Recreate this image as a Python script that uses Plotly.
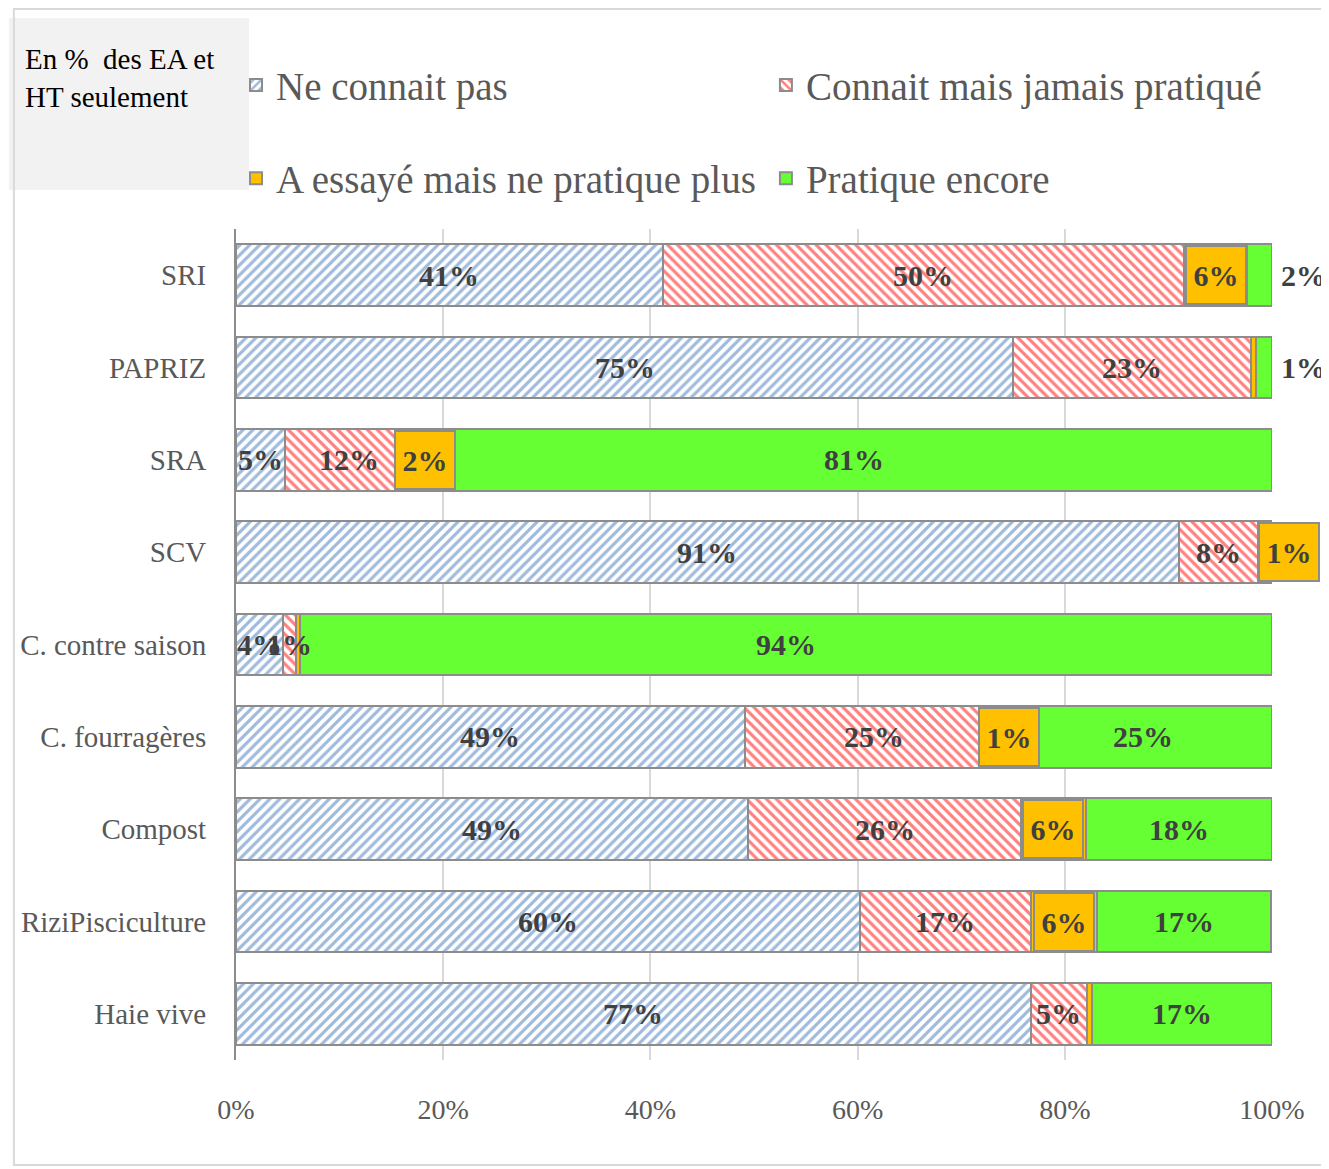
import plotly.graph_objects as go

categories = ["SRI", "PAPRIZ", "SRA", "SCV", "C. contre saison", "C. fourragères",
              "Compost", "RiziPisciculture", "Haie vive"]

series_names = ["Ne connait pas", "Connait mais jamais pratiqué",
                "A essayé mais ne pratique plus", "Pratique encore"]

ne_connait_pas = [41.2, 75.0, 4.7, 91.0, 4.5, 49.1, 49.4, 60.2, 76.7]
connait_jamais = [50.3, 23.0, 12.4, 7.6, 1.3, 25.0, 26.4, 16.5, 5.4]
essaye_plus = [6.1, 0.5, 2.2, 1.4, 0.4, 1.0, 6.2, 6.4, 0.5]
pratique_encore = [2.4, 1.5, 80.7, 0.0, 93.8, 24.9, 18.0, 16.8, 17.4]

lbl_ne = ["41%", "75%", "5%", "91%", "4%", "49%", "49%", "60%", "77%"]
lbl_cj = ["50%", "23%", "12%", "8%", "1%", "25%", "26%", "17%", "5%"]
lbl_es = ["6%", "", "2%", "1%", "", "1%", "6%", "6%", ""]
lbl_pe = ["2%", "1%", "81%", "", "94%", "25%", "18%", "17%", "17%"]

x_ticks = [0, 20, 40, 60, 80, 100]
x_tick_text = ["0%", "20%", "40%", "60%", "80%", "100%"]

note_text = "En %  des EA et<br>HT seulement"

FONT = "Liberation Serif"
GRAY_LINE = "#8C8C8C"
BLUE = "#3F75B8"
RED = "#FF0000"
ORANGE = "#FFC000"
GREEN = "#66FF33"
LABEL_COL = "#404040"

values = [ne_connait_pas, connait_jamais, essaye_plus, pratique_encore]
labels = [lbl_ne, lbl_cj, lbl_es, lbl_pe]

fig = go.Figure()

styles = [
    dict(color="white", line=dict(color=GRAY_LINE, width=2),
         pattern=dict(shape="/", fgcolor=BLUE, bgcolor="white", size=7, solidity=0.45)),
    dict(color="white", line=dict(color=GRAY_LINE, width=2),
         pattern=dict(shape="\\", fgcolor=RED, bgcolor="white", size=7, solidity=0.45)),
    dict(color=ORANGE, line=dict(color=GRAY_LINE, width=2)),
    dict(color=GREEN, line=dict(color=GRAY_LINE, width=2)),
]
legend_ids = ["legend", "legend2", "legend3", "legend4"]

for name, vals, st, lg in zip(series_names, values, styles, legend_ids):
    fig.add_trace(go.Bar(
        y=categories, x=vals, name=name, orientation="h",
        marker=st, legend=lg, hoverinfo="x+y+name",
    ))

# data labels
annotations = []
lbl_font = dict(family=FONT, size=30, color=LABEL_COL, weight="bold")
for i, cat in enumerate(categories):
    cum = 0.0
    for s in range(4):
        v = values[s][i]
        t = labels[s][i]
        start = cum
        cum += v
        if not t:
            continue
        if s == 3 and v < 3:
            annotations.append(dict(
                x=cum, y=cat, xref="x", yref="y", text=t, showarrow=False,
                xanchor="left", xshift=7, font=lbl_font))
        elif s == 2:
            last = values[3][i] == 0
            annotations.append(dict(
                x=start if last else start + v / 2, y=cat, xref="x", yref="y",
                text=t, showarrow=False, xanchor="left" if last else "center",
                bgcolor=ORANGE, bordercolor=GRAY_LINE, borderwidth=2,
                width=52, height=50, borderpad=3, font=lbl_font))
        else:
            annotations.append(dict(
                x=start + v / 2, y=cat, xref="x", yref="y", text=t, showarrow=False,
                font=lbl_font))

# note box text
annotations.append(dict(
    x=-0.206, y=1.226, xref="paper", yref="paper", text=note_text, showarrow=False,
    xanchor="left", yanchor="top", align="left",
    font=dict(family=FONT, size=29, color="black")))

shapes = [
    # note box background
    dict(type="rect", xref="paper", yref="paper", x0=-0.2192, x1=0.0125,
         y0=1.0469, y1=1.2539, fillcolor="#F2F2F2", line=dict(width=0), layer="below"),
    # outer chart border
    dict(type="rect", xref="paper", yref="paper", x0=-0.2144, x1=1.0529,
         y0=-0.1263, y1=1.2647, fillcolor="rgba(0,0,0,0)",
         line=dict(color="#D9D9D9", width=2), layer="below"),
]

legend_common = dict(
    orientation="h", xanchor="left", yanchor="middle",
    font=dict(family=FONT, size=39, color="#595959"),
    bgcolor="rgba(0,0,0,0)",
)

fig.update_layout(
    width=1321, height=1161,
    margin=dict(l=224, r=57, t=221, b=109),
    paper_bgcolor="white", plot_bgcolor="white",
    barmode="stack", bargap=0.33,
    font=dict(family=FONT),
    showlegend=True,
    legend=dict(x=0.0, y=1.173, **legend_common),
    legend2=dict(x=0.5115, y=1.173, **legend_common),
    legend3=dict(x=0.0, y=1.061, **legend_common),
    legend4=dict(x=0.5115, y=1.061, **legend_common),
    xaxis=dict(range=[0, 100], tickvals=x_ticks, ticktext=x_tick_text,
               showgrid=True, gridcolor="#D9D9D9", gridwidth=2, zeroline=False,
               tickfont=dict(family=FONT, size=28, color="#595959"),
               ticks="", ticklabelstandoff=30, fixedrange=True),
    yaxis=dict(autorange="reversed", showline=True, linecolor=GRAY_LINE, linewidth=2,
               showgrid=False, tickfont=dict(family=FONT, size=29, color="#595959"),
               ticks="", ticklabelstandoff=22, fixedrange=True),
    annotations=annotations,
    shapes=shapes,
)

fig.write_html("out.html")
